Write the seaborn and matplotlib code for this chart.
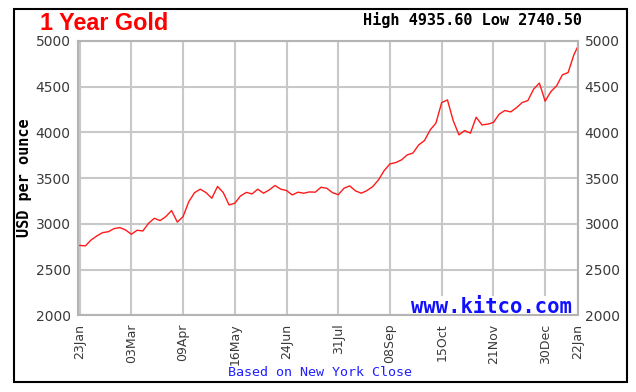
import matplotlib
matplotlib.use("Agg")
import matplotlib.pyplot as plt
import matplotlib.patches as patches
import pandas as pd
import seaborn as sns

# ---------------------------------------------------------------------------
# data (business-day axis)
# ---------------------------------------------------------------------------
start_day = "2025-01-23"
end_day = "2026-01-22"

# NY close, every third business day from start_day, plus the last day
gold_close = [
    2765, 2760, 2825, 2869, 2905, 2915, 2949, 2960, 2934, 2887,
    2931, 2923, 3007, 3062, 3036, 3080, 3146, 3020, 3080, 3244,
    3342, 3380, 3342, 3281, 3410, 3342, 3208, 3226, 3306, 3345,
    3328, 3380, 3336, 3372, 3420, 3380, 3365, 3317, 3347, 3336,
    3350, 3347, 3401, 3390, 3342, 3320, 3390, 3416, 3361, 3336,
    3365, 3408, 3481, 3584, 3656, 3671, 3700, 3755, 3775, 3864,
    3911, 4028, 4102, 4327, 4356, 4130, 3974, 4021, 3992, 4167,
    4083, 4091, 4109, 4200, 4240, 4225, 4270, 4327, 4349, 4474,
    4540, 4342, 4447, 4510, 4630, 4655, 4849, 4935.6,
]

tick_days = [
    "2025-01-23", "2025-03-03", "2025-04-09", "2025-05-16", "2025-06-24",
    "2025-07-31", "2025-09-08", "2025-10-15", "2025-11-21", "2025-12-30",
    "2026-01-22",
]
y_ticks = [2000, 2500, 3000, 3500, 4000, 4500, 5000]

high_low = "High 4935.60 Low 2740.50"

# ---------------------------------------------------------------------------
# build the frame
# ---------------------------------------------------------------------------
days = pd.bdate_range(start_day, end_day)
sample_pos = list(range(0, len(days), 3))
if sample_pos[-1] != len(days) - 1:
    sample_pos.append(len(days) - 1)
df = pd.DataFrame({"pos": sample_pos, "close": gold_close})

tick_pos = days.get_indexer(pd.to_datetime(tick_days))
tick_labels = [d.strftime("%d%b") for d in pd.to_datetime(tick_days)]

# ---------------------------------------------------------------------------
# plot
# ---------------------------------------------------------------------------
sns.set_theme(style="white")
plt.rcParams["font.family"] = ["DejaVu Sans"]

W, H = 636, 392
fig = plt.figure(figsize=(W / 100, H / 100), dpi=100)
ax = fig.add_axes([77.7 / W, 1 - 315.4 / H, 500 / W, 274.4 / H])

sns.lineplot(data=df, x="pos", y="close", color="#ff1a1a", linewidth=1.0, ax=ax)

ax.set_xlim(-1, len(days) - 1)
ax.set_ylim(2000, 5000)
ax.set_xticks(tick_pos)
ax.set_xticklabels(tick_labels, rotation=90)
ax.set_yticks(y_ticks)
ax.set_xlabel("")
ax.set_ylabel("")

ax.grid(True, color="#c8c8c8", linewidth=1.5)
for side, sp in ax.spines.items():
    sp.set_color("#b4b4b4")
    sp.set_linewidth(1.5)

ax.tick_params(axis="x", length=0, pad=6, labelsize=9, labelcolor="#3a3a3a")
ax.tick_params(axis="y", length=0, pad=5, labelsize=10, labelcolor="#3a3a3a",
               labelright=True)

# texts
fig.text(40 / W, 1 - 23 / H, "1 Year Gold", color="#ff0000", fontsize=16.8,
         fontweight="bold", family="Liberation Sans", va="center", ha="left")
fig.text(582 / W, 1 - 20 / H, high_low, color="black", fontsize=11,
         fontweight="bold", family="DejaVu Sans Mono", va="center", ha="right")
fig.text(25 / W, 1 - 178 / H, "USD per ounce", rotation=90, color="black",
         fontsize=11, fontweight="bold", family="DejaVu Sans Mono",
         va="center", ha="center")
ax.text(572 / W, 1 - 307 / H, "www.kitco.com", transform=fig.transFigure,
        color="#1010ff", fontsize=14.8, fontweight="bold",
        family="DejaVu Sans Mono", va="center", ha="right", zorder=2.2,
        bbox=dict(facecolor="white", edgecolor="none", pad=1))
fig.text(320 / W, 1 - 372 / H, "Based on New York Close", color="#2020ff",
         fontsize=9.6, family="DejaVu Sans Mono", va="center", ha="center")

# outer border
border = patches.Rectangle((14 / W, 1 - 382 / H), 613 / W, 373 / H,
                           transform=fig.transFigure, fill=False,
                           edgecolor="black", linewidth=1.5)
fig.add_artist(border)

fig.savefig("out.png", dpi=100)
